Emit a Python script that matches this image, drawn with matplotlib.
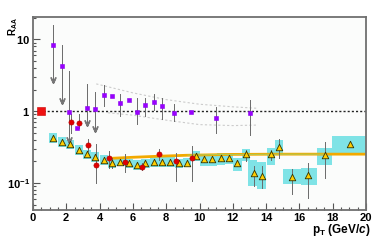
import matplotlib
matplotlib.use("Agg")
import matplotlib.pyplot as plt
from matplotlib.patches import Rectangle
from matplotlib.ticker import FixedLocator, NullFormatter, MultipleLocator

plt.rcParams['font.family'] = ['Liberation Sans', 'DejaVu Sans']
plt.rcParams['mathtext.fontset'] = 'custom'
plt.rcParams['mathtext.rm'] = 'Liberation Sans'
plt.rcParams['mathtext.bf'] = 'Liberation Sans:bold'
plt.rcParams['mathtext.it'] = 'Liberation Sans:italic:bold'

# ---------------- data ----------------
# purple squares
pur_x = [1.2, 1.72, 2.18, 2.64, 3.24, 3.72, 4.24, 4.74, 5.24, 5.75, 6.23, 6.75, 7.25, 7.75, 8.47, 9.47, 11.0, 13.0]
pur_y = [8.4, 4.2, 0.98, 0.59, 1.1, 1.08, 1.7, 1.65, 1.29, 1.42, 0.99, 1.21, 1.35, 1.17, 0.94, 0.96, 0.81, 0.95]
pur_hi = [16.0, 8.4, 3.6, 0.59, 2.4, 1.85, 2.35, 1.65, 1.72, 1.42, 1.53, 1.53, 1.72, 1.53, 1.25, 0.96, 1.14, 1.42]
pur_lo = [2.7, 1.38, 0.40, 0.59, 0.69, 0.56, 1.17, 1.65, 0.85, 1.42, 0.66, 0.85, 1.05, 0.77, 0.73, 0.96, 0.50, 0.47]
pur_arrow = [1, 1, 1, 0, 1, 1, 0, 0, 0, 0, 0, 0, 0, 0, 0, 0, 0, 0]

# red circles
red_x = [2.28, 2.78, 3.28, 3.8, 4.56, 5.55, 6.57, 7.55, 8.57, 9.57]
red_y = [0.71, 0.69, 0.34, 0.18, 0.22, 0.196, 0.167, 0.25, 0.20, 0.22]
red_hi = [0.90, 0.91, 0.41, 0.35, 0.28, 0.25, 0.19, 0.30, 0.26, 0.33]
red_lo = [0.50, 0.59, 0.28, 0.10, 0.16, 0.14, 0.15, 0.21, 0.107, 0.107]

# yellow triangles with systematic boxes
tri_x = [1.22, 1.72, 2.22, 2.74, 3.24, 3.74, 4.24, 4.77, 5.25, 5.75, 6.23, 6.75, 7.25, 7.75,
         8.25, 8.77, 9.25, 9.77, 10.27, 10.77, 11.27, 11.77, 12.27, 12.77, 13.27, 13.77,
         14.27, 14.77, 15.54, 16.52, 17.52, 19.04]
tri_y = [0.42, 0.375, 0.345, 0.287, 0.25, 0.23, 0.21, 0.188, 0.198, 0.188, 0.178, 0.188, 0.196, 0.196,
         0.196, 0.188, 0.19, 0.237, 0.215, 0.213, 0.22, 0.223, 0.188, 0.25, 0.136, 0.124,
         0.25, 0.32, 0.121, 0.128, 0.247, 0.345]
tri_hi = [0.44, 0.39, 0.36, 0.30, 0.27, 0.25, 0.225, 0.225, 0.21, 0.20, 0.19, 0.20, 0.21, 0.21,
          0.21, 0.20, 0.20, 0.26, 0.235, 0.235, 0.24, 0.245, 0.205, 0.29, 0.17, 0.17,
          0.29, 0.41, 0.155, 0.19, 0.37, 0.345]
tri_lo = [0.40, 0.36, 0.33, 0.275, 0.235, 0.21, 0.195, 0.163, 0.185, 0.175, 0.165, 0.175, 0.18, 0.18,
          0.18, 0.175, 0.18, 0.215, 0.195, 0.195, 0.20, 0.205, 0.17, 0.20, 0.09, 0.085,
          0.21, 0.225, 0.07, 0.062, 0.118, 0.345]
box_x0 = [0.98, 1.48, 1.98, 2.5, 3.0, 3.5, 4.0, 4.52, 5.0, 5.5, 6.0, 6.5, 7.0, 7.5,
          8.0, 8.52, 9.0, 9.52, 10.02, 10.52, 11.02, 11.52, 12.02, 12.52, 12.9, 13.43,
          14.03, 14.53, 15.03, 16.08, 17.04, 17.98]
box_x1 = [1.46, 1.96, 2.46, 2.98, 3.48, 3.98, 4.48, 5.0, 5.5, 6.0, 6.48, 7.0, 7.5, 8.0,
          8.5, 9.0, 9.5, 10.02, 10.52, 11.02, 11.52, 12.02, 12.52, 13.02, 13.43, 13.99,
          14.53, 15.03, 16.08, 17.04, 17.98, 20.0]
box_lo = [0.36, 0.32, 0.295, 0.245, 0.215, 0.197, 0.18, 0.162, 0.17, 0.162, 0.153, 0.162, 0.168, 0.168,
          0.168, 0.162, 0.165, 0.20, 0.175, 0.175, 0.18, 0.183, 0.147, 0.20, 0.09, 0.082,
          0.18, 0.25, 0.096, 0.095, 0.18, 0.26]
box_hi = [0.49, 0.44, 0.40, 0.335, 0.29, 0.268, 0.245, 0.218, 0.23, 0.218, 0.207, 0.218, 0.228, 0.228,
          0.228, 0.218, 0.22, 0.275, 0.255, 0.25, 0.26, 0.262, 0.225, 0.30, 0.21, 0.197,
          0.31, 0.40, 0.155, 0.162, 0.31, 0.45]

# curves
orange_x = [4.6, 6.0, 7.4, 9.2, 12.0, 15.0, 20.0]
orange_y = [0.22, 0.228, 0.235, 0.243, 0.25, 0.252, 0.252]
green_x = [9.3, 12.0, 15.0, 17.5]
green_y = [0.244, 0.25, 0.252, 0.252]
band_up_x = [3.8, 6.0, 8.0, 10.0, 12.0, 13.4]
band_up_y = [2.4, 1.8, 1.45, 1.25, 1.15, 1.1]
band_dn_x = [4.5, 6.0, 8.0, 10.0, 12.0, 13.4]
band_dn_y = [0.95, 0.88, 0.75, 0.65, 0.63, 0.64]

ref_x = [0.5]
ref_y = [1.0]

# ---------------- figure ----------------
fig = plt.figure(figsize=(3.74, 2.40), dpi=100)
ax = fig.add_axes([0.088, 0.125, 0.891, 0.804])
ax.set_yscale('log')
ax.set_xlim(0, 20)
ax.set_ylim(0.042, 20.5)

ERR = '#6a6a6a'

# systematic boxes
for x0, x1, lo, hi in zip(box_x0, box_x1, box_lo, box_hi):
    ax.add_patch(Rectangle((x0, lo), x1 - x0, hi - lo, facecolor='#7fe3e6',
                           edgecolor='none', zorder=1))

# orange / green curves
ax.plot(orange_x, orange_y, color='#f2a900', lw=2.0, zorder=2)
ax.plot(green_x, green_y, color='#9ed36a', lw=0.6, zorder=2.1)

# gray dotted band
ax.plot(band_up_x, band_up_y, color='#cccccc', lw=0.8, ls=(0, (2, 2)), zorder=1.5)
ax.plot(band_dn_x, band_dn_y, color='#cccccc', lw=0.8, ls=(0, (2, 2)), zorder=1.5)

# unity line
ax.plot([0.6, 20], [1, 1], color='#222222', lw=1.0, ls=(0, (1.5, 1.5)), zorder=2)

# triangle stat errors + markers
for x, lo, hi in zip(tri_x, tri_lo, tri_hi):
    ax.plot([x, x], [lo, hi], color=ERR, lw=0.7, zorder=3)
ax.scatter(tri_x, tri_y, marker='^', s=22, facecolor='#ffcc00', edgecolor='#333300',
           linewidths=0.6, zorder=4)

# red circles
for x, lo, hi in zip(red_x, red_lo, red_hi):
    ax.plot([x, x], [lo, hi], color=ERR, lw=0.7, zorder=3)
ax.scatter(red_x, red_y, marker='o', s=14, facecolor='#e00000', edgecolor='#aa0000',
           linewidths=0.4, zorder=5)

# purple squares
for x, y, lo, hi, arr in zip(pur_x, pur_y, pur_lo, pur_hi, pur_arrow):
    if hi > lo:
        ax.plot([x, x], [lo, hi], color=ERR, lw=0.7, zorder=3)
    if arr:
        ax.plot([x], [lo], marker=r'$\vee$', ms=4, color='#777777', zorder=3)
ax.scatter(pur_x, pur_y, marker='s', s=12, facecolor='#9900ff', edgecolor='#8800ee',
           linewidths=0.4, zorder=5)

# reference square
ax.scatter(ref_x, ref_y, marker='s', s=30, facecolor='#ee1111', edgecolor='#cc0000',
           linewidths=0.4, zorder=6)

# axes styling
for side in ['left', 'bottom', 'top', 'right']:
    ax.spines[side].set_color('#707070')
    ax.spines[side].set_linewidth(1.3)
ax.set_facecolor('#fbfcfb')

ax.yaxis.set_major_locator(FixedLocator([0.1, 1, 10]))
ax.set_yticklabels([r'$\mathbf{10^{-1}}$', r'$\mathbf{1}$', r'$\mathbf{10}$'])
ax.yaxis.set_minor_formatter(NullFormatter())
ax.xaxis.set_major_locator(MultipleLocator(2))
ax.xaxis.set_minor_locator(MultipleLocator(0.5))
ax.tick_params(axis='both', which='both', direction='in', top=False, right=False,
               color='#555555', width=0.8)
ax.tick_params(axis='both', which='major', length=5, labelsize=8, pad=2)
ax.tick_params(axis='both', which='minor', length=2.5)
for lab in ax.get_xticklabels() + ax.get_yticklabels():
    lab.set_fontweight('bold')

fig.text(0.035, 0.93, r'$\mathbf{R_{AA}}$', rotation=90, fontsize=7,
         ha='center', va='top')
fig.text(0.99, 0.008, r'$\mathbf{p_T}$ $\mathbf{(GeV/}\mathit{c}\mathbf{)}$', fontsize=8.5,
         ha='right', va='bottom')

fig.savefig('out.png', dpi=100)
